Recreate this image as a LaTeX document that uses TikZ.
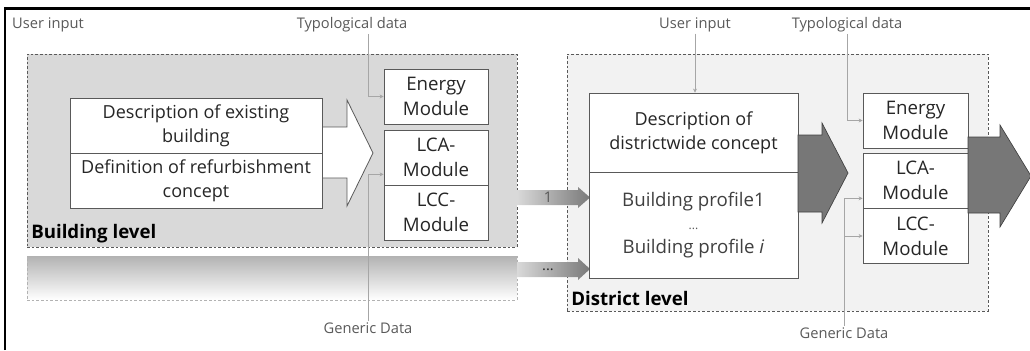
\documentclass[tikz,border=0pt]{standalone}
\usepackage{fontspec}
\setmainfont{Open Sans}
\usetikzlibrary{calc,arrows.meta}
\definecolor{ink}{HTML}{262626}
\definecolor{note}{HTML}{595959}
\definecolor{rim}{HTML}{595959}
\definecolor{feedline}{HTML}{A6A6A6}
\definecolor{bldgfill}{HTML}{D9D9D9}
\definecolor{distfill}{HTML}{F2F2F2}
\definecolor{bigarrow}{HTML}{777777}

\tikzset{
  level/.style={draw=rim, line width=0.5pt, dash pattern=on 2pt off 1.5pt, inner sep=0pt},
  cell/.style={draw=rim, fill=white, line width=0.6pt, inner sep=0pt, align=center,
    text=ink, font=\fontsize{13.5}{18}\selectfont},
  module/.style={cell, minimum width=78pt, minimum height=41.25pt, font=\fontsize{14}{18.5}\selectfont},
  source/.style={text=note, font=\fontsize{11}{13}\selectfont, inner sep=1pt},
  feed/.style={draw=feedline, line width=0.5pt, -{Stealth[length=3pt,width=3pt]}},
  levelname/.style={anchor=west, font=\fontsize{14}{16}\bfseries\selectfont, text=black, inner sep=0pt},
}

\begin{document}
\begin{tikzpicture}[x=0.75pt,y=-0.75pt]
\useasboundingbox (0,0) rectangle (1030,350);
\draw [line width=1.6pt] (5,350) -- (5,8.5) -- (1030,8.5);

\node [level, fill=bldgfill, minimum width=367.5pt, minimum height=144.75pt] (bldg) at (272,150.5) {};
\node [level, draw=gray!60, top color=gray!60, bottom color=white, minimum width=367.5pt, minimum height=33pt] (more) at (272,278) {};
\node [level, fill=distfill, minimum width=315.75pt, minimum height=192.75pt] (dist) at (777.5,182.5) {};

\draw [rim, fill=white, line width=0.6pt] (310,127) -- (347,127) -- (347,100) -- (373,153) -- (347,206) -- (347,178) -- (310,178) -- cycle;
\node [cell, minimum width=189pt, minimum height=41.25pt] (existing) at (196,125.5) {Description of existing\\building};
\node [cell, minimum width=189pt, minimum height=41.25pt] (refurb) at (196,180.5) {Definition of refurbishment\\concept};

\node [module] (energyB) at (436,96.5) {Energy\\Module};
\node [module] (lcaB) at (436,157.5) {LCA-\\Module};
\node [module] (lccB) at (436,212.5) {LCC-\\Module};

\shade [left color=bldgfill, right color=gray!95!black] (517,190) -- (578,190) -- (578,187) -- (590,197.5) -- (578,208) -- (578,205) -- (517,205) -- cycle;
\shade [left color=bldgfill, right color=gray!95!black] (517,262) -- (578,262) -- (578,258) -- (590,269) -- (578,280) -- (578,277) -- (517,277) -- cycle;
\node [source] (one) at (548,197.5) {1};
\node [source, text=ink] (etc) at (548,270) {...};

\node [cell, minimum width=156.75pt, minimum height=59.25pt] (concept) at (693.5,132.5) {Description of\\districtwide concept};
\node [cell, minimum width=156.75pt, minimum height=79.5pt, text=black!75, font=\fontsize{14}{17.5}\selectfont] (profiles) at (693.5,225) {Building profile1\\{\small\color{note}...}\\Building profile \textit{i}};

\draw [draw=black!75, fill=bigarrow, line width=0.5pt] (798,135) -- (822,135) -- (822,123) -- (848,173) -- (822,223) -- (822,212) -- (798,212) -- cycle;

\node [module, minimum width=78.75pt] (energyD) at (915.5,120.5) {Energy\\Module};
\node [module, minimum width=78.75pt] (lcaD) at (915.5,180.5) {LCA-\\Module};
\node [module, minimum width=78.75pt] (lccD) at (915.5,236) {LCC-\\Module};

\draw [draw=black!75, fill=bigarrow, line width=0.5pt] (968,137) -- (1000,137) -- (1000,125) -- (1031,176) -- (1000,227) -- (1000,213) -- (968,213) -- cycle;

\node [levelname] (bldgname) at (31,234) {Building level};
\node [levelname] (distname) at (571,298) {District level};

\node [source] (userB) at (48,25) {User input};
\node [source] (typB) at (352,25) {Typological data};
\node [source] (genB) at (368,328) {Generic Data};
\node [source] (userD) at (695,25) {User input};
\node [source] (typD) at (847,25) {Typological data};
\node [source] (genD) at (844,333) {Generic Data};

\draw [feed] (typB.south -| genB.north) |- (energyB.west);
\draw [feed] (genB.north) |- ($(lcaB.south west)+(0,-11)$);
\draw [feed] (userD.south) -- (userD.south |- concept.north);
\draw [feed] (typD.south) |- (energyD.west);
\draw [feed] (genD.north) |- ($(lcaD.south west)+(0,-10)$);
\draw [feed] (genD.north) |- (lccD.west);
\end{tikzpicture}
\end{document}
